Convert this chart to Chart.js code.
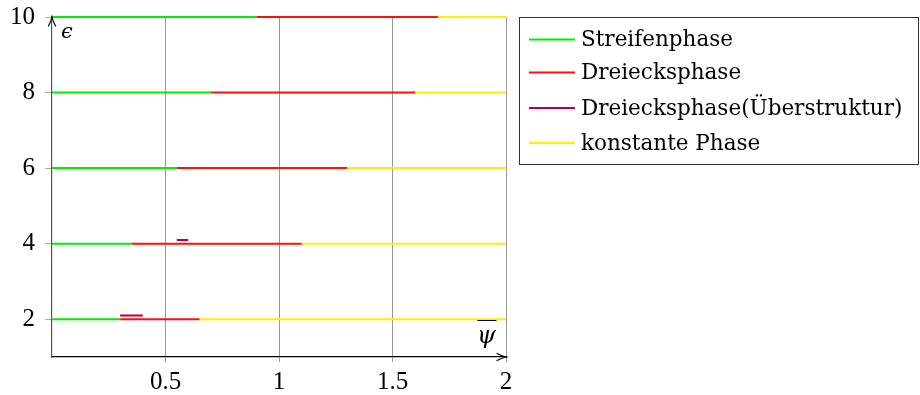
<!DOCTYPE html>
<html>
<head>
<meta charset="utf-8">
<script src="https://cdn.jsdelivr.net/npm/chart.js@4/dist/chart.umd.min.js"></script>
<style>
  html, body { margin: 0; padding: 0; background: #fff; }
  #wrap { width: 920px; height: 395px; }
</style>
</head>
<body>
<div id="wrap"><canvas id="phases" width="920" height="395"></canvas></div>
<script>
// Phase boundaries along psi-bar for each epsilon level
const epsilonLevels = [2, 4, 6, 8, 10];
const stripeEnd = [0.30, 0.35, 0.55, 0.70, 0.90];
const triangleEnd = [0.65, 1.10, 1.30, 1.60, 1.70];
const psiMin = 0;
const psiMax = 2;

// Short superstructure segments just above some levels
const superEpsilon = [2.1, 4.1];
const superStart = [0.30, 0.55];
const superEnd = [0.40, 0.60];

// Axis ticks
const xTicks = [0.5, 1, 1.5, 2];
const yTicks = [2, 4, 6, 8, 10];

const phaseLabels = ['Streifenphase', 'Dreiecksphase', 'Dreiecksphase(Überstruktur)', 'konstante Phase'];
const phaseColors = ['#00ee00', '#ff1010', '#b8003c', '#ffee00'];

// Turn start/end/level arrays into broken line segments
function segments(starts, ends, levels) {
  const pts = [];
  levels.forEach((y, i) => {
    pts.push({ x: starts[i], y: y });
    pts.push({ x: ends[i], y: y });
    pts.push({ x: ends[i], y: null });
  });
  return pts;
}

const zeros = epsilonLevels.map(() => psiMin);
const maxes = epsilonLevels.map(() => psiMax);

const datasets = [
  { label: phaseLabels[0], data: segments(zeros, stripeEnd, epsilonLevels) },
  { label: phaseLabels[1], data: segments(stripeEnd, triangleEnd, epsilonLevels) },
  { label: phaseLabels[2], data: segments(superStart, superEnd, superEpsilon) },
  { label: phaseLabels[3], data: segments(triangleEnd, maxes, epsilonLevels) }
].map((d, i) => Object.assign(d, {
  borderColor: phaseColors[i],
  backgroundColor: phaseColors[i],
  borderWidth: 2,
  pointRadius: 0,
  borderCapStyle: 'butt',
  spanGaps: false,
  clip: { left: 0, right: 0, top: 1, bottom: 0 },
  fill: false
}));

const tickFont = { family: '"Liberation Serif", "DejaVu Serif", serif', size: 25 };

// Axis arrows, axis symbols and framed legend
const decorations = {
  id: 'decorations',
  afterDraw(chart) {
    const ctx = chart.ctx;
    const a = chart.chartArea;
    ctx.save();

    // arrow heads
    ctx.strokeStyle = '#000';
    ctx.lineWidth = 1.2;
    ctx.lineCap = 'round';
    ctx.beginPath();
    ctx.moveTo(a.right - 9, a.bottom - 3.5);
    ctx.quadraticCurveTo(a.right - 4, a.bottom - 0.8, a.right, a.bottom);
    ctx.quadraticCurveTo(a.right - 4, a.bottom + 0.8, a.right - 9, a.bottom + 3.5);
    ctx.stroke();
    ctx.beginPath();
    ctx.moveTo(a.left - 3.5, a.top + 9);
    ctx.quadraticCurveTo(a.left - 0.8, a.top + 4, a.left, a.top);
    ctx.quadraticCurveTo(a.left + 0.8, a.top + 4, a.left + 3.5, a.top + 9);
    ctx.stroke();

    // axis symbols
    ctx.fillStyle = '#000';
    ctx.textAlign = 'left';
    ctx.textBaseline = 'alphabetic';
    ctx.font = 'italic 21px "DejaVu Serif", serif';
    ctx.fillText('\u03F5', a.left + 9, a.top + 21);
    ctx.font = 'italic 24px "DejaVu Serif", serif';
    ctx.fillText('\u03C8', a.right - 29, a.bottom - 14);
    ctx.lineWidth = 1.2;
    ctx.beginPath();
    ctx.moveTo(a.right - 28, a.bottom - 36.5);
    ctx.lineTo(a.right - 10, a.bottom - 36.5);
    ctx.stroke();

    // legend
    const box = { x: 519.5, y: 17.5, w: 399, h: 147 };
    ctx.strokeStyle = '#333';
    ctx.lineWidth = 1;
    ctx.strokeRect(box.x, box.y, box.w, box.h);
    const rows = [39.5, 72.5, 108, 143];
    ctx.font = '21.5px "DejaVu Serif", serif';
    ctx.textBaseline = 'middle';
    chart.data.datasets.forEach((ds, i) => {
      ctx.strokeStyle = ds.borderColor;
      ctx.lineWidth = 2;
      ctx.lineCap = 'butt';
      ctx.beginPath();
      ctx.moveTo(529, rows[i]);
      ctx.lineTo(575, rows[i]);
      ctx.stroke();
      ctx.fillStyle = '#000';
      ctx.fillText(ds.label, 581, rows[i] + 1);
    });
    ctx.restore();
  }
};

new Chart(document.getElementById('phases'), {
  type: 'line',
  data: { datasets: datasets },
  plugins: [decorations],
  options: {
    responsive: false,
    animation: false,
    events: [],
    layout: { padding: { left: 0, top: 17, right: 414, bottom: 0 } },
    plugins: { legend: { display: false }, tooltip: { enabled: false } },
    scales: {
      x: {
        type: 'linear',
        min: psiMin,
        max: psiMax,
        afterBuildTicks: s => { s.ticks = xTicks.map(v => ({ value: v })); },
        afterFit: s => { s.height = 38; s.paddingLeft = 0; s.paddingRight = 0; },
        grid: { color: '#999', lineWidth: 1, tickLength: 5, drawTicks: true },
        border: { display: true, color: '#000', width: 1.2 },
        ticks: {
          font: tickFont, color: '#000', padding: 5, maxRotation: 0,
          callback: v => String(v)
        }
      },
      y: {
        type: 'linear',
        min: 1,
        max: 10,
        afterBuildTicks: s => { s.ticks = yTicks.map(v => ({ value: v })); },
        afterFit: s => { s.width = 52; s.paddingTop = 0; s.paddingBottom = 0; },
        grid: { drawOnChartArea: false, color: '#aaa', lineWidth: 1, tickLength: 7, drawTicks: true },
        border: { display: true, color: '#555', width: 1.2 },
        ticks: { font: tickFont, color: '#000', padding: 10, callback: v => String(v) }
      }
    }
  }
});
</script>
</body>
</html>
